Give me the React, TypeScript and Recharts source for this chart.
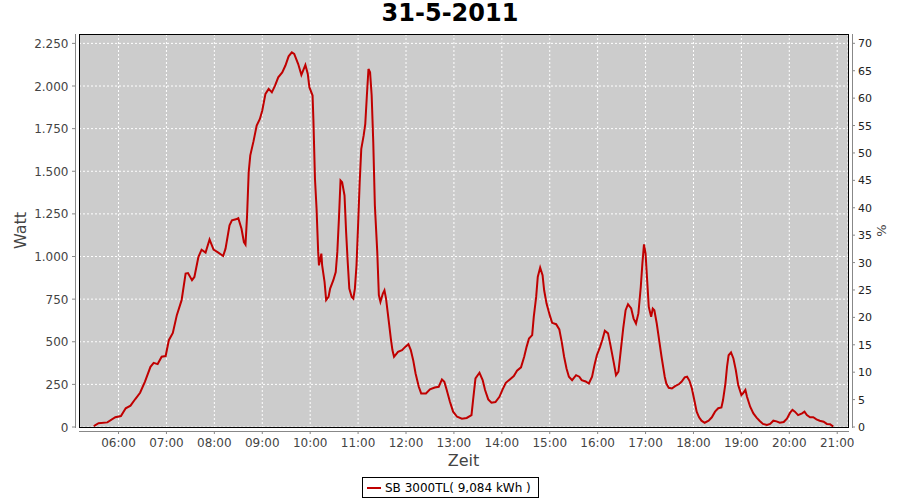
import { CartesianGrid, Line, LineChart, XAxis, YAxis } from "recharts";

const FONT = "'DejaVu Sans', Verdana, sans-serif";

const WIDTH = 900;
const HEIGHT = 500;
// plot box of the reference (gray area); the axes sit a few px outside it
const PLOT_LEFT = 79;
const PLOT_TOP = 34;
const PLOT_RIGHT = 848;
const PLOT_BOTTOM = 427;
const AXIS_GAP = 4;

const TITLE = "31-5-2011";
const SERIES_NAME = "SB 3000TL( 9,084 kWh )";
const LINE_COLOR = "#c00000";

// minutes since midnight
const TIMES = [
  329, 335, 346, 356, 363, 369, 375, 381, 387, 393, 400, 404, 409, 414, 419, 423, 428, 433, 439, 444,
  447, 452, 455, 460, 464, 469, 474, 479, 485, 491, 494, 499, 502, 507, 510, 514, 517, 519, 521, 523,
  525, 529, 533, 537, 540, 544, 548, 552, 556, 560, 565, 569, 573, 577, 580, 585, 589, 594, 597, 599,
  603, 604, 606, 608, 610, 611, 614, 615, 618, 620, 623, 625, 629, 632, 634, 636, 638, 640, 643, 645,
  647, 649, 652, 654, 656, 658, 660, 662, 664, 667, 669, 671, 673, 675, 677, 679, 681, 684, 686, 688,
  691, 693, 695, 697, 699, 701, 703, 705, 710, 715, 719, 723, 726, 729, 732, 736, 739, 745, 750, 756,
  761, 765, 768, 771, 775, 779, 784, 790, 796, 802, 804, 807, 812, 816, 819, 823, 827, 832, 837, 841,
  845, 850, 855, 859, 864, 868, 871, 874, 878, 880, 883, 885, 888, 891, 893, 896, 900, 903, 908, 912,
  915, 918, 921, 924, 928, 933, 937, 940, 945, 949, 953, 956, 959, 963, 966, 969, 973, 976, 980, 983,
  986, 989, 992, 995, 998, 1002, 1005, 1008, 1011, 1014, 1016, 1018, 1020, 1022, 1024, 1027, 1029, 1031, 1034, 1037,
  1040, 1044, 1046, 1049, 1053, 1057, 1062, 1065, 1069, 1072, 1075, 1078, 1081, 1084, 1087, 1090, 1094, 1099, 1103, 1107,
  1111, 1115, 1117, 1120, 1122, 1124, 1127, 1130, 1133, 1136, 1140, 1142, 1145, 1147, 1151, 1155, 1159, 1163, 1167, 1172,
  1176, 1180, 1184, 1188, 1193, 1197, 1201, 1204, 1207, 1211, 1216, 1219, 1222, 1226, 1230, 1234, 1238, 1243, 1247, 1251,
  1255,
];

const WATTS = [
  5, 22, 27, 57, 64, 110, 125, 164, 201, 265, 353, 376, 369, 412, 416, 509, 552, 656, 744, 900,
  903, 861, 880, 997, 1040, 1023, 1100, 1040, 1023, 1003, 1046, 1183, 1212, 1218, 1225, 1163, 1085, 1070, 1241, 1495,
  1593, 1675, 1768, 1807, 1856, 1954, 1983, 1963, 2002, 2051, 2080, 2120, 2174, 2197, 2188, 2129, 2065, 2124, 2071, 1993,
  1944, 1807, 1456, 1280, 1027, 948, 1017, 948, 851, 744, 763, 812, 861, 909, 1027, 1222, 1446, 1436, 1358, 1144,
  968, 812, 763, 753, 812, 948, 1183, 1436, 1632, 1710, 1778, 1944, 2100, 2080, 1944, 1671, 1300, 1027, 773, 734,
  783, 802, 753, 675, 597, 519, 451, 412, 441, 451, 470, 486, 451, 392, 314, 236, 197, 197, 221, 232,
  236, 279, 265, 217, 148, 90, 60, 49, 53, 70, 158, 285, 318, 275, 217, 162, 142, 146, 177, 221,
  259, 279, 299, 330, 350, 412, 470, 519, 539, 646, 763, 880, 935, 890, 802, 724, 656, 611, 603, 572,
  499, 412, 343, 295, 275, 304, 295, 275, 267, 255, 295, 363, 421, 470, 513, 564, 549, 480, 382, 304,
  324, 451, 578, 685, 720, 695, 636, 607, 666, 821, 958, 1071, 1017, 861, 704, 646, 695, 685, 607, 509,
  412, 295, 255, 230, 226, 240, 252, 265, 291, 295, 271, 226, 158, 90, 57, 37, 25, 37, 57, 90,
  110, 115, 158, 255, 353, 421, 437, 402, 334, 246, 187, 197, 217, 177, 119, 80, 55, 35, 18, 12,
  18, 37, 33, 25, 29, 49, 84, 100, 90, 70, 80, 90, 70, 57, 57, 45, 37, 31, 18, 16,
  2,
];

const TIME_TICKS = [360, 420, 480, 540, 600, 660, 720, 780, 840, 900, 960, 1020, 1080, 1140, 1200, 1260];
const WATT_TICKS = [0, 250, 500, 750, 1000, 1250, 1500, 1750, 2000, 2250];
const PERCENT_TICKS = [0, 5, 10, 15, 20, 25, 30, 35, 40, 45, 50, 55, 60, 65, 70];

const TIME_DOMAIN: [number, number] = [310.5, 1273.5];
const WATT_DOMAIN: [number, number] = [0, 2305];
const PERCENT_DOMAIN: [number, number] = [0, 71.7];

const data = TIMES.map((t, i) => ({ t, w: WATTS[i] }));

function formatTime(m: number): string {
  const h = Math.floor(m / 60);
  const mm = m % 60;
  return `${String(h).padStart(2, "0")}:${String(mm).padStart(2, "0")}`;
}

// German grouping: 2250 -> "2.250"
function formatWatt(v: number): string {
  return String(v).replace(/\B(?=(\d{3})+(?!\d))/g, ".");
}

function TimeTick(props: any) {
  const { x, y, payload } = props;
  return (
    <g>
      <line x1={x} x2={x} y1={y + AXIS_GAP} y2={y + AXIS_GAP + 3} stroke="#888" />
      <text x={x} y={y + 19.5} textAnchor="middle" fontSize={12} fontFamily={FONT} fill="#444">
        {formatTime(payload.value)}
      </text>
    </g>
  );
}

function WattTick(props: any) {
  const { x, y, payload } = props;
  return (
    <g>
      <line x1={x - AXIS_GAP - 3} x2={x - AXIS_GAP} y1={y} y2={y} stroke="#888" />
      <text x={x - 10.5} y={y + 4.5} textAnchor="end" fontSize={12} fontFamily={FONT} fill="#444">
        {formatWatt(payload.value)}
      </text>
    </g>
  );
}

function PercentTick(props: any) {
  const { x, y, payload } = props;
  return (
    <g>
      <line x1={x + AXIS_GAP} x2={x + AXIS_GAP + 3} y1={y} y2={y} stroke="#888" />
      <text x={x + 10} y={y + 4} textAnchor="start" fontSize={11} fontFamily={FONT} fill="#222">
        {payload.value}
      </text>
    </g>
  );
}

/** Title, axis names, offset axis lines, plot border and legend box. */
function Decorations() {
  const midX = (PLOT_LEFT + PLOT_RIGHT) / 2;
  const midY = (PLOT_TOP + PLOT_BOTTOM) / 2;
  return (
    <svg
      width={WIDTH}
      height={HEIGHT}
      style={{ position: "absolute", left: 0, top: 0, pointerEvents: "none" }}
    >
      <text x={WIDTH / 2} y={21} textAnchor="middle" fontSize={24} fontWeight="bold" fontFamily={FONT} fill="#000">
        {TITLE}
      </text>

      <rect
        x={PLOT_LEFT + 0.5}
        y={PLOT_TOP + 0.5}
        width={PLOT_RIGHT - PLOT_LEFT}
        height={PLOT_BOTTOM - PLOT_TOP}
        fill="none"
        stroke="#000"
      />
      <line x1={PLOT_LEFT - AXIS_GAP + 0.5} x2={PLOT_LEFT - AXIS_GAP + 0.5} y1={PLOT_TOP} y2={PLOT_BOTTOM + 1} stroke="#888" />
      <line x1={PLOT_RIGHT + AXIS_GAP + 0.5} x2={PLOT_RIGHT + AXIS_GAP + 0.5} y1={PLOT_TOP} y2={PLOT_BOTTOM + 1} stroke="#888" />
      <line x1={PLOT_LEFT} x2={PLOT_RIGHT + 1} y1={PLOT_BOTTOM + AXIS_GAP + 0.5} y2={PLOT_BOTTOM + AXIS_GAP + 0.5} stroke="#888" />

      <text x={midX} y={466} textAnchor="middle" fontSize={16} fontFamily={FONT} fill="#444">
        Zeit
      </text>
      <text x={26} y={midY} textAnchor="middle" fontSize={16} fontFamily={FONT} fill="#444" transform={`rotate(-90 26 ${midY})`}>
        Watt
      </text>
      <text x={886} y={midY} textAnchor="middle" fontSize={13} fontFamily={FONT} fill="#444" transform={`rotate(-90 886 ${midY})`}>
        %
      </text>

      <rect x={362.5} y={477.5} width={176} height={20} fill="#fff" stroke="#000" />
      <line x1={367} x2={381} y1={488} y2={488} stroke={LINE_COLOR} strokeWidth={2} />
      <text x={385} y={492} fontSize={12} fontFamily={FONT} fill="#000">
        {SERIES_NAME}
      </text>
    </svg>
  );
}

export default function App() {
  return (
    <div style={{ position: "absolute", left: 0, top: 0, width: WIDTH, height: HEIGHT, background: "#fff" }}>
      <LineChart width={WIDTH} height={HEIGHT} data={data} margin={{ top: PLOT_TOP, right: 0, bottom: 0, left: 0 }}>
        <CartesianGrid yAxisId="w" stroke="#ffffff" strokeDasharray="2 2" fill="#cccccc" fillOpacity={1} />
        <XAxis
          dataKey="t"
          type="number"
          domain={TIME_DOMAIN}
          ticks={TIME_TICKS}
          allowDataOverflow
          interval={0}
          height={HEIGHT - PLOT_BOTTOM}
          axisLine={false}
          tickLine={false}
          tickSize={0}
          tickMargin={0}
          tick={TimeTick}
        />
        <YAxis
          yAxisId="w"
          orientation="left"
          type="number"
          domain={WATT_DOMAIN}
          ticks={WATT_TICKS}
          allowDataOverflow
          interval={0}
          width={PLOT_LEFT}
          axisLine={false}
          tickLine={false}
          tickSize={0}
          tickMargin={0}
          tick={WattTick}
        />
        <YAxis
          yAxisId="pct"
          orientation="right"
          type="number"
          domain={PERCENT_DOMAIN}
          ticks={PERCENT_TICKS}
          allowDataOverflow
          interval={0}
          width={WIDTH - PLOT_RIGHT}
          axisLine={false}
          tickLine={false}
          tickSize={0}
          tickMargin={0}
          tick={PercentTick}
        />
        <Line
          yAxisId="w"
          dataKey="w"
          type="linear"
          stroke={LINE_COLOR}
          strokeWidth={2}
          dot={false}
          activeDot={false}
          isAnimationActive={false}
        />
      </LineChart>
      <Decorations />
    </div>
  );
}
